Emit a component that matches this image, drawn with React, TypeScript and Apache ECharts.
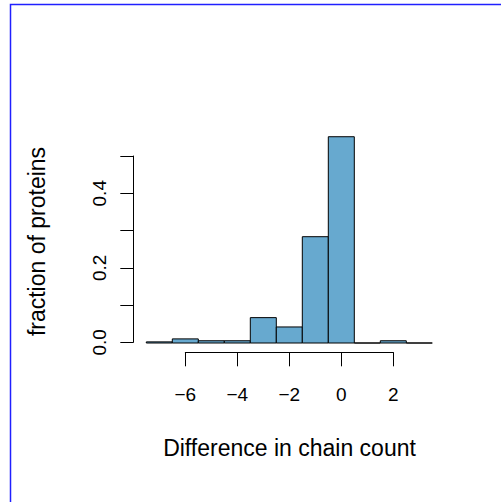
import React, { useEffect, useRef } from "react";
import * as echarts from "echarts";

// Histogram bins (centers) and fraction of proteins in each bin
const binCenters = [-7, -6, -5, -4, -3, -2, -1, 0, 1, 2, 3];
const fractions = [0.003, 0.011, 0.006, 0.006, 0.068, 0.043, 0.285, 0.553, 0, 0.006, 0];
const binWidth = 1;

// Axis ticks
const xTicks = { min: -6, max: 2, interval: 2 };
const yTicks = { min: 0, max: 0.5, interval: 0.1 };

const xTitle = "Difference in chain count";
const yTitle = "fraction of proteins";

const FONT = "'Liberation Sans', Arial, Helvetica, sans-serif";
const BAR_FILL = "#67A9CF";

export default function App() {
  const ref = useRef<HTMLDivElement>(null);

  useEffect(() => {
    if (!ref.current) return;
    const chart = echarts.init(ref.current, null, { renderer: "svg" });
    const data = binCenters.map((c, i) => [c, fractions[i]]);
    const option: any = {
      animation: false,
      backgroundColor: "#ffffff",
      grid: [
        // plotting grid for bars
        { left: 146.3, width: 286, top: 119.2, height: 223.8, containLabel: false, outerBoundsMode: "none" },
        // x axis display grid
        { left: 185.3, width: 208, top: 300, height: 52.3, containLabel: false, outerBoundsMode: "none" },
        // y axis display grid
        { left: 133.3, width: 50, top: 156, height: 186.3, containLabel: false, outerBoundsMode: "none" },
      ],
      xAxis: [
        { gridIndex: 0, type: "value", min: -7.5, max: 3.5, show: false },
        {
          gridIndex: 1,
          type: "value",
          min: xTicks.min,
          max: xTicks.max,
          interval: xTicks.interval,
          axisLine: { show: true, onZero: false, lineStyle: { color: "#000", width: 1 } },
          axisTick: { show: true, length: 14, lineStyle: { color: "#000", width: 1 } },
          splitLine: { show: false },
          axisLabel: {
            margin: 33,
            fontSize: 19,
            fontFamily: FONT,
            color: "#000",
            formatter: (v: number) => (v < 0 ? "\u2212" + Math.abs(v) : String(v)),
          },
        },
        { gridIndex: 2, type: "value", min: 0, max: 1, show: false },
      ],
      yAxis: [
        { gridIndex: 0, type: "value", min: 0, max: 0.6, show: false },
        { gridIndex: 1, type: "value", min: 0, max: 1, show: false },
        {
          gridIndex: 2,
          type: "value",
          min: yTicks.min,
          max: yTicks.max,
          interval: yTicks.interval,
          axisLine: { show: true, onZero: false, lineStyle: { color: "#000", width: 1 } },
          axisTick: { show: true, length: 13, lineStyle: { color: "#000", width: 1 } },
          splitLine: { show: false },
          axisLabel: {
            rotate: 90,
            margin: 24,
            fontSize: 19,
            fontFamily: FONT,
            color: "#000",
            formatter: (v: number) =>
              Math.round(v * 10) % 2 === 0 ? v.toFixed(1) : "",
          },
        },
      ],
      series: [
        {
          type: "custom",
          xAxisIndex: 0,
          yAxisIndex: 0,
          data,
          clip: false,
          renderItem: (params: any, api: any) => {
            const c = api.value(0);
            const v = api.value(1);
            const p0 = api.coord([c - binWidth / 2, 0]);
            const p1 = api.coord([c + binWidth / 2, v]);
            return {
              type: "polygon",
              shape: {
                points: [
                  [p0[0], p0[1]],
                  [p1[0], p0[1]],
                  [p1[0], p1[1]],
                  [p0[0], p1[1]],
                ],
              },
              style: { fill: BAR_FILL, stroke: "#000", lineWidth: 1 },
            };
          },
        },
      ],
      graphic: [
        {
          type: "polyline",
          shape: { points: [[10.5, 502], [10.5, 4.5], [501, 4.5]] },
          style: { stroke: "#2020ff", lineWidth: 1.5, fill: "none" },
          silent: true,
        },
        {
          type: "text",
          x: 289.5,
          y: 448,
          style: {
            text: xTitle,
            fontSize: 23,
            fontFamily: FONT,
            fill: "#000",
            align: "center",
            verticalAlign: "middle",
          },
        },
        {
          type: "text",
          x: 37,
          y: 241.5,
          rotation: Math.PI / 2,
          style: {
            text: yTitle,
            fontSize: 23,
            fontFamily: FONT,
            fill: "#000",
            align: "center",
            verticalAlign: "middle",
          },
        },
      ],
    };
    chart.setOption(option);
    return () => chart.dispose();
  }, []);

  return (
    <div
      ref={ref}
      style={{ position: "absolute", left: 0, top: 0, width: 501, height: 502 }}
    />
  );
}
